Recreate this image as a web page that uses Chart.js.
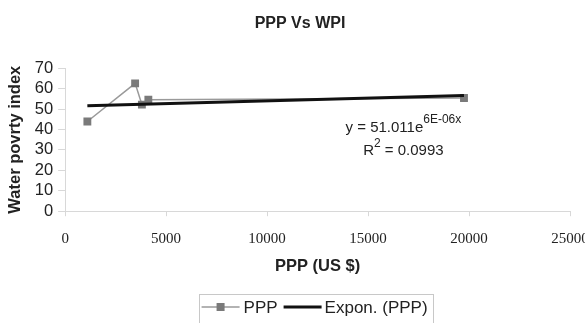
<!DOCTYPE html>
<html>
<head>
<meta charset="utf-8">
<script src="https://cdn.jsdelivr.net/npm/chart.js@4"></script>
<style>
  html, body { margin: 0; padding: 0; background: #fff; overflow: hidden; }
  #wrap { width: 594px; height: 323px; }
</style>
</head>
<body>
<div id="wrap"><canvas id="chart" width="594" height="323"></canvas></div>
<script>
// データ
const pppX = [1100, 3465, 3800, 4120, 19750];
const wpiY = [43.9, 62.6, 52.2, 54.6, 55.4];
const trendX = [1100, 19750];
const trendY = [51.6, 56.6];
const xTicks = [0, 5000, 10000, 15000, 20000, 25000];
const yTicks = [0, 10, 20, 30, 40, 50, 60, 70];

const SANS = 'Liberation Sans, Arial, sans-serif';
const SERIF = 'Liberation Serif, Times New Roman, serif';

// 凡例(枠付き、プロット中央に配置)
const boxLegend = {
    id: 'boxLegend',
    afterDraw(chart) {
        const ctx = chart.ctx;
        const area = chart.chartArea;
        const ds = chart.data.datasets;
        ctx.save();
        ctx.font = `17px ${SANS}`;
        const mw = 38;
        const w0 = ctx.measureText(ds[0].label).width;
        const w1 = ctx.measureText(ds[1].label).width;
        const total = mw + 4 + w0 + 6 + mw + 3 + w1;
        const cx = (area.left + area.right) / 2 - 3;
        let x = cx - total / 2;
        const cy = 307;
        // 枠
        ctx.strokeStyle = '#c8c8c8'; ctx.lineWidth = 1;
        ctx.strokeRect(Math.round(x - 3) + 0.5, 294.5, Math.round(total + 8), 40);
        // PPP
        ctx.strokeStyle = ds[0].borderColor; ctx.lineWidth = 1.5;
        ctx.beginPath(); ctx.moveTo(x, cy); ctx.lineTo(x + mw, cy); ctx.stroke();
        ctx.fillStyle = ds[0].pointBackgroundColor;
        ctx.fillRect(x + mw / 2 - 4, cy - 4, 8, 8);
        x += mw + 4;
        ctx.fillStyle = '#222'; ctx.textBaseline = 'middle';
        ctx.fillText(ds[0].label, x, cy + 1);
        x += w0 + 6;
        // Expon.
        ctx.strokeStyle = ds[1].borderColor; ctx.lineWidth = 3;
        ctx.beginPath(); ctx.moveTo(x, cy); ctx.lineTo(x + mw, cy); ctx.stroke();
        x += mw + 3;
        ctx.fillText(ds[1].label, x, cy + 1);
        ctx.restore();
    }
};

// 近似式
const eqn = {
    id: 'eqn',
    afterDatasetsDraw(chart) {
        const ctx = chart.ctx;
        const sx = chart.scales.x, sy = chart.scales.y;
        const cx = sx.getPixelForValue(16750);
        const base1 = sy.getPixelForValue(38.6);
        const base2 = base1 + 23;
        ctx.save();
        ctx.fillStyle = '#222';
        ctx.textBaseline = 'alphabetic';
        const big = `15px ${SANS}`, small = `12px ${SANS}`;
        ctx.font = big;
        const a = 'y = 51.011e', wA = ctx.measureText(a).width;
        ctx.font = small;
        const sup = '6E-06x', wSup = ctx.measureText(sup).width;
        let left = cx - (wA + wSup) / 2;
        ctx.font = big; ctx.fillText(a, left, base1);
        ctx.font = small; ctx.fillText(sup, left + wA, base1 - 9);
        ctx.font = big;
        const r = 'R', rest = ' = 0.0993';
        const wR = ctx.measureText(r).width, wRest = ctx.measureText(rest).width;
        ctx.font = small;
        const w2 = ctx.measureText('2').width;
        left = cx - (wR + w2 + wRest) / 2;
        ctx.font = big; ctx.fillText(r, left, base2);
        ctx.font = small; ctx.fillText('2', left + wR, base2 - 8);
        ctx.font = big; ctx.fillText(rest, left + wR + w2, base2);
        ctx.restore();
    }
};

new Chart(document.getElementById('chart').getContext('2d'), {
    type: 'scatter',
    data: {
        datasets: [{
            label: 'PPP',
            data: pppX.map((x, i) => ({ x, y: wpiY[i] })),
            showLine: true,
            borderColor: '#9a9a9a',
            borderWidth: 1.5,
            pointStyle: 'rect',
            pointRadius: 4.5,
            pointBackgroundColor: '#7a7a7a',
            pointBorderColor: '#7a7a7a',
            order: 1
        }, {
            label: 'Expon. (PPP)',
            data: trendX.map((x, i) => ({ x, y: trendY[i] })),
            showLine: true,
            borderColor: '#111',
            borderWidth: 3,
            pointRadius: 0,
            order: 0
        }]
    },
    options: {
        responsive: false,
        animation: false,
        layout: { padding: { left: 6, right: 0, top: 0, bottom: 43 } },
        plugins: {
            title: {
                display: true, text: 'PPP Vs WPI', color: '#222',
                font: { family: SANS, size: 16, weight: 'bold' },
                padding: { top: 14, bottom: 35 }
            },
            legend: { display: false },
            tooltip: { enabled: false }
        },
        scales: {
            x: {
                type: 'linear', min: 0, max: 25000,
                afterBuildTicks: s => { s.ticks = xTicks.map(v => ({ value: v })); },
                // 右端の目盛ラベルは図と同じくはみ出させる
                afterFit: s => { s.paddingRight = 24; },
                border: { color: '#d8d8d8' },
                grid: { drawOnChartArea: false, drawTicks: true, tickLength: 5, color: '#d8d8d8' },
                ticks: { color: '#222', font: { family: SERIF, size: 15 }, padding: 14, maxRotation: 0, autoSkip: false, callback: v => String(v) },
                title: {
                    display: true, text: 'PPP (US $)', color: '#222',
                    font: { family: SANS, size: 16.5, weight: 'bold' }, padding: { top: -6, bottom: 4 }
                }
            },
            y: {
                min: 0, max: 70,
                afterBuildTicks: s => { s.ticks = yTicks.map(v => ({ value: v })); },
                border: { color: '#d8d8d8' },
                grid: { drawOnChartArea: false, drawTicks: true, tickLength: 7, color: '#d8d8d8' },
                ticks: { color: '#222', font: { family: SANS, size: 16.5 }, padding: 5, autoSkip: false, callback: v => String(v) },
                title: {
                    display: true, text: 'Water povrty index', color: '#222',
                    font: { family: SANS, size: 16.5, weight: 'bold' }, padding: { top: 0, bottom: 4 }
                }
            }
        }
    },
    plugins: [eqn, boxLegend]
});
</script>
</body>
</html>
